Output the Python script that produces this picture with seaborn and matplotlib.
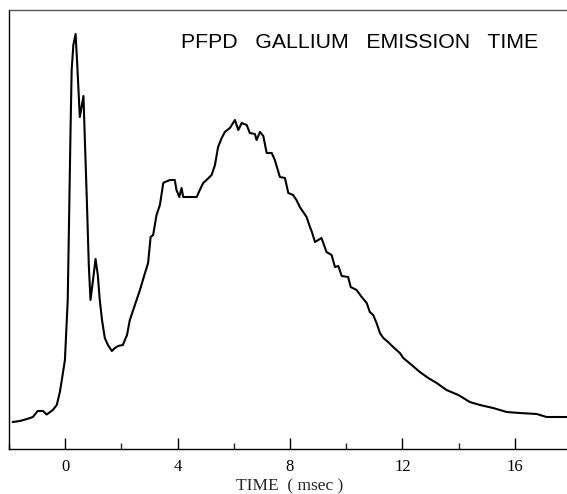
import matplotlib
matplotlib.use("Agg")
import matplotlib.pyplot as plt
import seaborn as sns
import pandas as pd
from matplotlib.ticker import MultipleLocator

time_ms = [-1.87, -1.61, -1.36, -1.15, -0.98, -0.79, -0.66, -0.44, -0.30, -0.19,
           -0.12, -0.01, 0.09, 0.14, 0.19, 0.23, 0.29, 0.37, 0.42, 0.52,
           0.65, 0.70, 0.77, 0.84, 0.90, 0.99, 1.08, 1.16, 1.23, 1.31,
           1.41, 1.52, 1.66, 1.77, 1.88, 2.05, 2.20, 2.30, 2.54, 2.66,
           2.84, 2.95, 3.04, 3.13, 3.25, 3.37, 3.49, 3.55, 3.73, 3.90,
           3.96, 4.06, 4.14, 4.20, 4.37, 4.56, 4.68, 4.79, 4.91, 5.03,
           5.21, 5.33, 5.44, 5.57, 5.68, 5.86, 6.04, 6.16, 6.28, 6.46,
           6.57, 6.75, 6.81, 6.93, 7.05, 7.17, 7.35, 7.46, 7.64, 7.82,
           7.94, 8.11, 8.23, 8.35, 8.47, 8.59, 8.71, 8.78, 8.89, 9.12,
           9.30, 9.48, 9.60, 9.72, 9.84, 10.07, 10.16, 10.37, 10.55, 10.73,
           10.84, 10.96, 11.08, 11.20, 11.32, 11.49, 11.67, 11.79, 11.91, 12.03,
           12.33, 12.62, 12.92, 13.22, 13.57, 13.99, 14.40, 14.76, 15.23, 15.71,
           16.18, 16.78, 17.13, 17.49, 17.84]
intensity = [27, 28, 30, 32, 38, 38, 34.5, 39, 44, 57,
             69, 89, 149, 234, 319, 379, 404, 415, 389, 332,
             353, 309, 249, 184, 149, 169, 190, 174, 149, 129,
             111, 104, 98, 101, 103, 104, 114, 129, 149, 159,
             176, 186, 212, 214, 234, 244, 266, 267, 269, 269,
             259, 252, 261, 252, 252, 252, 252, 259, 266, 269,
             274, 284, 302, 311, 317, 321, 329, 319, 326, 324,
             316, 315, 309, 317, 313, 296, 296, 289, 272, 271,
             256, 254, 249, 242, 237, 232, 222, 217, 207, 211,
             197, 194, 182, 183, 173, 172, 162, 159, 152, 146,
             137, 134, 126, 116, 111, 107, 102, 99, 96, 91,
             84, 77, 71, 66, 59, 54, 47, 44, 41, 37,
             36, 35, 32, 32, 32]
x_ticks = [0, 4, 8, 12, 16]
title_text = "PFPD   GALLIUM   EMISSION   TIME"
x_label = "TIME  ( msec )"

sns.set_style("white")
df = pd.DataFrame({"time": time_ms, "signal": intensity})

fig = plt.figure(figsize=(5.67, 4.94), dpi=100)
ax = fig.add_axes([9 / 567, 45 / 494, 562 / 567, 439 / 494])
sns.lineplot(data=df, x="time", y="signal", ax=ax, color="black", linewidth=1.5)

ax.set_xlim(-2, 18)
ax.set_ylim(0, 439)
ax.set_xticks(x_ticks)
ax.set_xticklabels([str(t) for t in x_ticks], fontfamily="Liberation Serif", fontsize=12)
ax.xaxis.set_minor_locator(MultipleLocator(2))
ax.tick_params(axis="x", which="major", direction="in", length=8, width=1, bottom=True, pad=7, colors="black")
ax.tick_params(axis="x", which="minor", direction="in", length=4, width=1, bottom=True)
ax.set_yticks([])
ax.set_ylabel("")
ax.set_xlabel(x_label, fontfamily="Liberation Serif", fontsize=12.5, labelpad=2.5)

for side in ["left", "top", "bottom", "right"]:
    ax.spines[side].set_visible(True)
    ax.spines[side].set_color("black")
    ax.spines[side].set_linewidth(1.0)
ax.spines["top"].set_color("#555555")

fig.text(181 / 567, 1 - 42 / 494, title_text, fontsize=15.3,
         fontfamily="Liberation Sans", va="center", ha="left", color="black")

fig.savefig("out.png", dpi=100)
